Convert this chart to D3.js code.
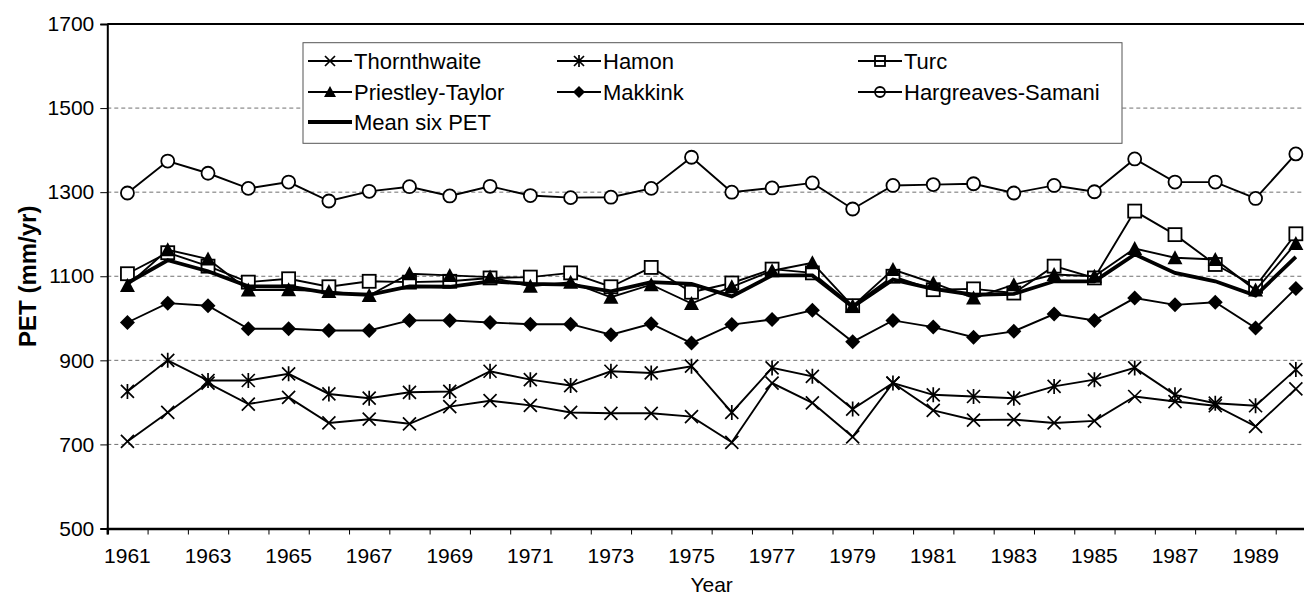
<!DOCTYPE html>
<html lang="en">
<head>
  <meta charset="utf-8">
  <title>Annual PET by method, 1961-1990</title>
  <script src="https://d3js.org/d3.v7.min.js"></script>
  <style>
    body { margin: 0; background: #fff; }
    svg { display: block; font-family: "Liberation Sans", Arial, sans-serif; }
    .tick text { font-size: 21px; fill: #000; font-family: "Liberation Sans", Arial, sans-serif; }
    .grid line { stroke: #707070; stroke-width: 1; stroke-dasharray: 4 3; }
    .series path.line { fill: none; stroke: #000; stroke-width: 1.9px; }
    .legend text { font-size: 22px; }
  </style>
</head>
<body>
  <div id="chart"></div>

  <script>
    var years = d3.range(1961, 1991);
    var yTicks = [500, 700, 900, 1100, 1300, 1500, 1700];

    var thornthwaite = [707, 776, 846, 796, 812, 751, 760, 749, 790, 804, 793, 776, 774, 774, 766, 705, 846, 799, 718, 846, 781, 758, 759, 751, 756, 814, 802, 792, 743, 832];
    var hamon = [826, 900, 852, 852, 868, 820, 810, 824, 826, 874, 854, 840, 874, 870, 886, 776, 882, 862, 784, 846, 818, 814, 810, 838, 854, 882, 818, 798, 792, 878];
    var turc = [1106, 1156, 1124, 1086, 1094, 1075, 1088, 1086, 1088, 1096, 1098, 1108, 1075, 1121, 1062, 1084, 1117, 1108, 1030, 1100, 1068, 1070, 1060, 1124, 1096, 1255, 1199, 1128, 1076, 1201];
    var priestleyTaylor = [1078, 1163, 1141, 1067, 1068, 1064, 1054, 1106, 1102, 1098, 1076, 1086, 1050, 1080, 1035, 1075, 1113, 1132, 1029, 1116, 1084, 1048, 1080, 1104, 1100, 1166, 1144, 1140, 1067, 1178];
    var makkink = [990, 1036, 1030, 975, 975, 971, 971, 995, 995, 990, 986, 986, 961, 987, 941, 985, 997, 1019, 944, 995, 979, 955, 969, 1010, 995, 1048, 1032, 1038, 977, 1071];
    var hargreaves = [1298, 1374, 1345, 1309, 1324, 1279, 1302, 1313, 1291, 1314, 1292, 1287, 1288, 1309, 1383, 1300, 1310, 1322, 1260, 1316, 1318, 1320, 1298, 1316, 1301, 1379, 1324, 1324, 1285, 1391];
    var meanSix = [1084, 1138, 1112, 1076, 1076, 1060, 1056, 1076, 1075, 1088, 1082, 1080, 1064, 1086, 1082, 1052, 1102, 1102, 1027, 1092, 1070, 1056, 1058, 1088, 1088, 1152, 1108, 1088, 1054, 1146];

    var series = [
      {name: "Thornthwaite", values: thornthwaite, marker: "cross"},
      {name: "Hamon", values: hamon, marker: "star"},
      {name: "Turc", values: turc, marker: "square"},
      {name: "Priestley-Taylor", values: priestleyTaylor, marker: "triangle"},
      {name: "Makkink", values: makkink, marker: "diamond"},
      {name: "Hargreaves-Samani", values: hargreaves, marker: "circle"},
      {name: "Mean six PET", values: meanSix, marker: "none"}
    ];

    var width = 1304, height = 597;
    var margin = {left: 107.3, top: 24, bottom: 528.5};
    var plotRight = margin.left + 30 * 40.29;

    var svg = d3.select("#chart").append("svg")
      .attr("width", width)
      .attr("height", height);

    var x = d3.scaleBand().domain(years).range([margin.left, plotRight]).padding(0);
    var y = d3.scaleLinear().domain([500, 1700]).range([margin.bottom, margin.top]);
    var cx = d => x(d) + x.bandwidth() / 2;

    // gridlines
    svg.append("g")
      .attr("class", "grid")
      .selectAll("line")
      .data(yTicks.filter(d => d > 500 && d < 1700))
      .enter().append("line")
      .attr("x1", margin.left).attr("x2", plotRight)
      .attr("y1", d => y(d)).attr("y2", d => y(d));

    // frame (top edge of plot area)
    svg.append("line")
      .attr("x1", margin.left).attr("x2", plotRight)
      .attr("y1", y(1700)).attr("y2", y(1700))
      .attr("stroke", "#000").attr("stroke-width", 2);

    // y axis
    var yAxis = svg.append("g")
      .attr("transform", `translate(${margin.left},0)`)
      .call(d3.axisLeft(y).tickValues(yTicks).tickFormat(d3.format("d")).tickSize(7).tickPadding(6));
    yAxis.select(".domain").attr("stroke-width", 2);

    // x axis: ticks between categories, labels on odd years
    var xi = d3.scaleLinear().domain([0, 30]).range([margin.left, plotRight]);
    var xTickAxis = svg.append("g")
      .attr("transform", `translate(0,${margin.bottom})`)
      .call(d3.axisBottom(xi).tickValues(d3.range(0, 31)).tickSize(6).tickFormat(""));
    xTickAxis.select(".domain").attr("stroke-width", 2.5);

    svg.append("g")
      .attr("transform", `translate(0,${margin.bottom})`)
      .call(d3.axisBottom(x).tickValues(years.filter(d => d % 2 === 1)).tickFormat(d3.format("d")).tickSize(0).tickPadding(20))
      .call(g => g.select(".domain").remove());

    // axis titles
    svg.append("text")
      .attr("x", (margin.left + plotRight) / 2)
      .attr("y", 592)
      .attr("text-anchor", "middle")
      .style("font-size", "21px")
      .text("Year");

    svg.append("text")
      .attr("transform", `translate(36,${(margin.top + margin.bottom) / 2}) rotate(-90)`)
      .attr("text-anchor", "middle")
      .style("font-size", "24px")
      .style("font-weight", "bold")
      .text("PET (mm/yr)");

    function drawMarker(g, type, s, fill) {
      var h = s / 2;
      if (type === "cross") {
        g.append("path").attr("d", `M${-h},${-h}L${h},${h}M${-h},${h}L${h},${-h}`)
          .attr("stroke", "#000").attr("stroke-width", 1.7).attr("fill", "none");
      } else if (type === "star") {
        g.append("path").attr("d", `M${-h},${-h}L${h},${h}M${-h},${h}L${h},${-h}M0,${-h - 1}L0,${h + 1}`)
          .attr("stroke", "#000").attr("stroke-width", 1.7).attr("fill", "none");
      } else if (type === "square") {
        g.append("rect").attr("x", -h).attr("y", -h).attr("width", s).attr("height", s)
          .attr("fill", fill).attr("stroke", "#000").attr("stroke-width", 1.8);
      } else if (type === "triangle") {
        g.append("path").attr("d", `M0,${-h - 1}L${h + 1},${h}L${-h - 1},${h}Z`).attr("fill", "#000");
      } else if (type === "diamond") {
        g.append("path").attr("d", `M0,${-h - 1}L${h + 1},0L0,${h + 1}L${-h - 1},0Z`).attr("fill", "#000");
      } else if (type === "circle") {
        g.append("circle").attr("r", h).attr("fill", fill)
          .attr("stroke", "#000").attr("stroke-width", 1.8);
      }
    }

    var line = d3.line().x((d, i) => cx(years[i])).y(d => y(d));

    series.forEach(s => {
      var g = svg.append("g").attr("class", "series");
      g.append("path")
        .attr("class", "line")
        .attr("d", line(s.values))
        .style("stroke-width", s.marker === "none" ? "3.8px" : null);
      s.values.forEach((v, i) => {
        var m = g.append("g").attr("transform", `translate(${cx(years[i])},${y(v)})`);
        drawMarker(m, s.marker, 13, "#fff");
      });
    });

    // Legend
    var legend = svg.append("g").attr("class", "legend");
    legend.append("rect")
      .attr("x", 303).attr("y", 42.7)
      .attr("width", 1122 - 303).attr("height", 143.3 - 42.7)
      .attr("fill", "#fff").attr("stroke", "#555").attr("stroke-width", 1);

    var colX = [330, 579, 880];
    var rowY = [61, 92, 122];

    series.forEach((s, i) => {
      var gx = colX[i % 3], gy = rowY[Math.floor(i / 3)];
      var item = legend.append("g").attr("transform", `translate(${gx},${gy})`);
      item.append("line").attr("x1", -22).attr("x2", 22)
        .attr("stroke", "#000").attr("stroke-width", s.marker === "none" ? 3.8 : 1.8);
      drawMarker(item, s.marker, 10, "none");
      item.append("text")
        .attr("x", 24).attr("y", 0).attr("dy", "0.36em")
        .text(s.name);
    });
  </script>
</body>
</html>
